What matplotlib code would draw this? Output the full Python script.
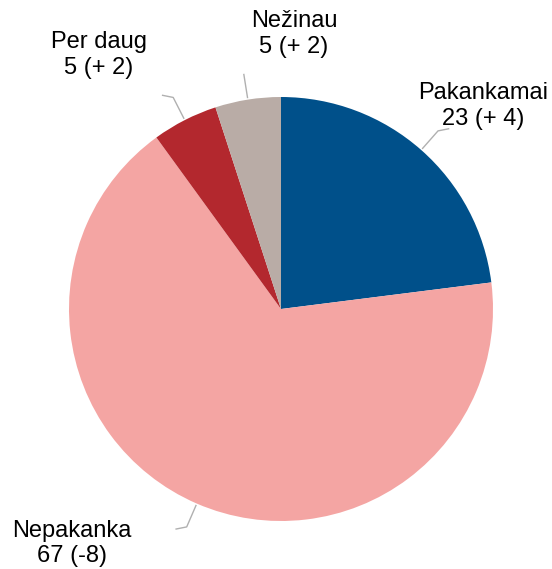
import numpy as np
import matplotlib.pyplot as plt

# answer shares (percent) and change vs. previous survey
categories = ['Pakankamai', 'Nepakanka', 'Per daug', 'Nežinau']
shares = [23, 67, 5, 5]
changes = ['+ 4', '-8', '+ 2', '+ 2']
colors = ['#00508a', '#f4a5a3', '#b3282e', '#b9aca6']

# label centres (data coords, pie radius = 1)
label_pos = [(0.955, 0.958), (-0.986, -1.105), (-0.858, 1.198), (0.061, 1.297)]
# leader elbow direction: horizontal tail sign
elbow = [1, -1, -1, 0]

W, H = 552, 569
cx, cy, r = 281, 309, 212

fig = plt.figure(figsize=(W / 100, H / 100), dpi=100)
plt.rcParams['font.family'] = ['Liberation Sans', 'DejaVu Sans']
ax = fig.add_axes([(cx - r) / W, (H - cy - r) / H, 2 * r / W, 2 * r / H])

wedges, _ = ax.pie(shares, colors=colors, startangle=90, counterclock=False,
                   radius=1.0, wedgeprops=dict(linewidth=0))
ax.set_xlim(-1, 1)
ax.set_ylim(-1, 1)
ax.set_aspect('equal')
ax.axis('off')

for w, name, val, ch, (lx, ly), e in zip(wedges, categories, shares, changes, label_pos, elbow):
    ang = np.deg2rad((w.theta1 + w.theta2) / 2)
    x0, y0 = 1.01 * np.cos(ang), 1.01 * np.sin(ang)
    x1, y1 = 1.12 * np.cos(ang), 1.12 * np.sin(ang)
    xs = [x0, x1]
    ys = [y0, y1]
    if e != 0:
        xs.append(x1 + 0.05 * e)
        ys.append(y1 + 0.01 * np.sign(y1))
    ax.plot(xs, ys, color='#b0b0b0', lw=1, clip_on=False)
    ax.text(lx, ly, f'{name}\n{val} ({ch})',
            ha='center', va='center', fontsize=17, linespacing=1.2, clip_on=False)

fig.savefig('out.png', dpi=100)
